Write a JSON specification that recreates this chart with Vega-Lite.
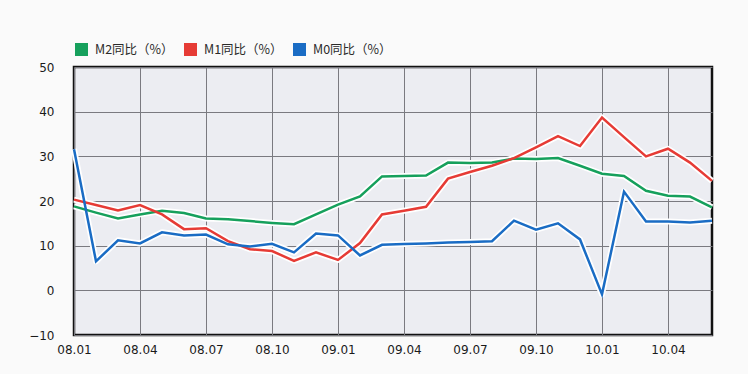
{
  "$schema": "https://vega.github.io/schema/vega-lite/v6.json",
  "autosize": "none",
  "width": 638,
  "height": 268,
  "padding": {"left": 74, "top": 67, "right": 36, "bottom": 39},
  "background": "#fafafa",
  "config": {
    "font": "DejaVu Sans",
    "view": {"fill": "#ecedf2", "stroke": "#111111", "strokeWidth": 2.5}
  },
  "data": {
    "values": [
      {"m": "08.01", "M2同比（%）": 18.8, "M1同比（%）": 20.3, "M0同比（%）": 31.6},
      {"m": "08.02", "M2同比（%）": 17.4, "M1同比（%）": 19.1, "M0同比（%）": 6.5},
      {"m": "08.03", "M2同比（%）": 16.1, "M1同比（%）": 17.9, "M0同比（%）": 11.2},
      {"m": "08.04", "M2同比（%）": 17.0, "M1同比（%）": 19.1, "M0同比（%）": 10.5},
      {"m": "08.05", "M2同比（%）": 17.8, "M1同比（%）": 17.0, "M0同比（%）": 13.0},
      {"m": "08.06", "M2同比（%）": 17.3, "M1同比（%）": 13.7, "M0同比（%）": 12.3},
      {"m": "08.07", "M2同比（%）": 16.1, "M1同比（%）": 13.9, "M0同比（%）": 12.5},
      {"m": "08.08", "M2同比（%）": 15.9, "M1同比（%）": 11.0, "M0同比（%）": 10.3},
      {"m": "08.09", "M2同比（%）": 15.5, "M1同比（%）": 9.2, "M0同比（%）": 9.8},
      {"m": "08.10", "M2同比（%）": 15.1, "M1同比（%）": 8.8, "M0同比（%）": 10.4},
      {"m": "08.11", "M2同比（%）": 14.8, "M1同比（%）": 6.6, "M0同比（%）": 8.5},
      {"m": "08.12", "M2同比（%）": 17.0, "M1同比（%）": 8.5, "M0同比（%）": 12.7},
      {"m": "09.01", "M2同比（%）": 19.2, "M1同比（%）": 6.8, "M0同比（%）": 12.3},
      {"m": "09.02", "M2同比（%）": 21.0, "M1同比（%）": 10.6, "M0同比（%）": 7.8},
      {"m": "09.03", "M2同比（%）": 25.5, "M1同比（%）": 17.0, "M0同比（%）": 10.2},
      {"m": "09.04", "M2同比（%）": 25.6, "M1同比（%）": 17.8, "M0同比（%）": 10.4},
      {"m": "09.05", "M2同比（%）": 25.7, "M1同比（%）": 18.7, "M0同比（%）": 10.5},
      {"m": "09.06", "M2同比（%）": 28.6, "M1同比（%）": 25.0, "M0同比（%）": 10.7},
      {"m": "09.07", "M2同比（%）": 28.5, "M1同比（%）": 26.5, "M0同比（%）": 10.8},
      {"m": "09.08", "M2同比（%）": 28.6, "M1同比（%）": 27.9, "M0同比（%）": 11.0},
      {"m": "09.09", "M2同比（%）": 29.5, "M1同比（%）": 29.6, "M0同比（%）": 15.6},
      {"m": "09.10", "M2同比（%）": 29.4, "M1同比（%）": 32.0, "M0同比（%）": 13.6},
      {"m": "09.11", "M2同比（%）": 29.6, "M1同比（%）": 34.5, "M0同比（%）": 15.0},
      {"m": "09.12", "M2同比（%）": 27.9, "M1同比（%）": 32.3, "M0同比（%）": 11.4},
      {"m": "10.01", "M2同比（%）": 26.1, "M1同比（%）": 38.7, "M0同比（%）": -0.9},
      {"m": "10.02", "M2同比（%）": 25.6, "M1同比（%）": 34.3, "M0同比（%）": 22.1},
      {"m": "10.03", "M2同比（%）": 22.3, "M1同比（%）": 30.0, "M0同比（%）": 15.4},
      {"m": "10.04", "M2同比（%）": 21.2, "M1同比（%）": 31.7, "M0同比（%）": 15.4},
      {"m": "10.05", "M2同比（%）": 21.0, "M1同比（%）": 28.6, "M0同比（%）": 15.2},
      {"m": "10.06", "M2同比（%）": 18.6, "M1同比（%）": 24.5, "M0同比（%）": 15.6}
    ]
  },
  "transform": [
    {"fold": ["M2同比（%）", "M1同比（%）", "M0同比（%）"], "as": ["series", "value"]}
  ],
  "encoding": {
    "x": {
      "field": "m",
      "type": "ordinal",
      "sort": null,
      "scale": {"type": "point", "padding": 0},
      "axis": {
        "title": null,
        "values": ["08.01", "08.04", "08.07", "08.10", "09.01", "09.04", "09.07", "09.10", "10.01", "10.04"],
        "labelAngle": 0,
        "labelFontSize": 12,
        "labelColor": "#1a1a1a",
        "labelPadding": 9,
        "domain": false,
        "ticks": false,
        "grid": true,
        "gridColor": "#7a7a80",
        "gridWidth": 1
      }
    },
    "y": {
      "field": "value",
      "type": "quantitative",
      "scale": {"domain": [-10, 50], "nice": false, "zero": false},
      "axis": {
        "title": null,
        "values": [-10, 0, 10, 20, 30, 40, 50],
        "labelFontSize": 12,
        "labelColor": "#1a1a1a",
        "labelPadding": 20,
        "domain": false,
        "ticks": false,
        "grid": true,
        "gridColor": "#7a7a80",
        "gridWidth": 1
      }
    }
  },
  "layer": [
    {
      "mark": {"type": "line", "stroke": "white", "strokeWidth": 6, "strokeJoin": "round"},
      "encoding": {"detail": {"field": "series"}}
    },
    {
      "mark": {"type": "line", "strokeWidth": 2.5, "strokeJoin": "miter"},
      "encoding": {
        "color": {
          "field": "series",
          "type": "nominal",
          "sort": ["M2同比（%）", "M1同比（%）", "M0同比（%）"],
          "scale": {
            "domain": ["M2同比（%）", "M1同比（%）", "M0同比（%）"],
            "range": ["#16a05c", "#e63b35", "#1a6cc4"]
          },
          "legend": {
            "orient": "none",
            "legendX": 1,
            "legendY": -24,
            "direction": "horizontal",
            "title": null,
            "symbolType": "square",
            "symbolSize": 169,
            "symbolStrokeWidth": 0,
            "labelFont": "Noto Sans CJK SC",
            "labelFontSize": 12.5,
            "labelColor": "#2a2a2a",
            "labelOffset": 7,
            "columnPadding": 10,
            "encode": {
              "symbols": {
                "update": {
                  "fill": {"scale": "color", "field": "value"},
                  "fillOpacity": {"value": 1},
                  "strokeWidth": {"value": 0}
                }
              }
            }
          }
        }
      }
    }
  ]
}
